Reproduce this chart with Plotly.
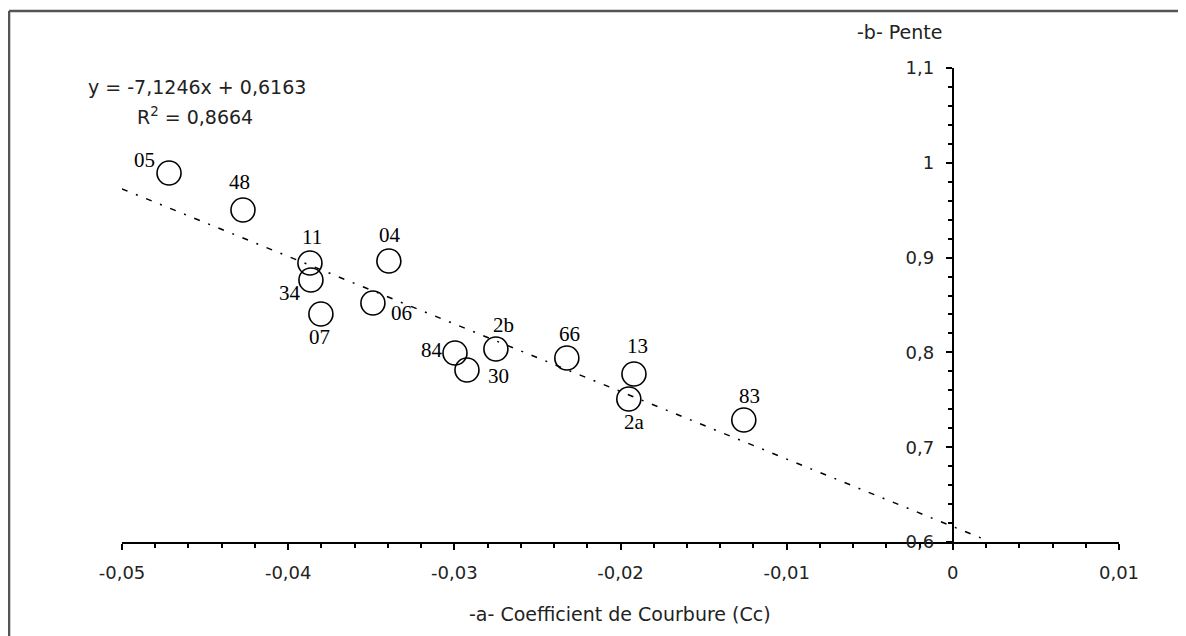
import plotly.graph_objects as go

# Courbure (Cc) vs pente, one point per site
sites = ["05", "48", "11", "34", "07", "04", "06", "84", "30", "2b", "66", "13", "2a", "83"]
cc = [-0.04717, -0.04272, -0.03869, -0.03863, -0.03803, -0.03394, -0.0349,
      -0.02996, -0.02924, -0.0275, -0.02323, -0.01919, -0.0195, -0.01258]
pente = [0.9892, 0.9502, 0.8943, 0.8764, 0.8405, 0.8964, 0.8521,
         0.7994, 0.7814, 0.8036, 0.7941, 0.7772, 0.7508, 0.7287]

# pixel offsets of each site label from its circle
label_dx = [-25, -3, 2, -21, -1, 1, 29, -23, 32, 8, 3, 4, 6, 6]
label_dy = [13, 28, 26, -13, -23, 26, -10, 3, -6, 24, 24, 28, -23, 24]

# trend line as printed on the chart
slope = -7.1246
intercept = 0.6163
trend_x = [-0.05, 0.002]

x_ticks = [-0.05, -0.04, -0.03, -0.02, -0.01, 0, 0.01]
x_labels = ["-0,05", "-0,04", "-0,03", "-0,02", "-0,01", "0", "0,01"]
y_ticks = [0.6, 0.7, 0.8, 0.9, 1.0, 1.1]
y_labels = ["0,6", "0,7", "0,8", "0,9", "1", "1,1"]

SANS = "DejaVu Sans"
SERIF = "Liberation Serif, Times New Roman, serif"
TXT = "#222"

fig = go.Figure()

fig.add_trace(go.Scatter(
    x=trend_x,
    y=[slope * v + intercept for v in trend_x],
    mode="lines",
    line=dict(color="black", width=1.5, dash="6px,9px,2px,9px"),
    hoverinfo="skip",
))

fig.add_trace(go.Scatter(
    x=cc, y=pente, mode="markers",
    marker=dict(symbol="circle-open", size=24, color="black", line=dict(width=1.6)),
    text=sites,
))

for s, x, y, dx, dy in zip(sites, cc, pente, label_dx, label_dy):
    fig.add_annotation(x=x, y=y, text=s, showarrow=False, xshift=dx, yshift=dy,
                       xanchor="center", yanchor="middle",
                       font=dict(family=SERIF, size=21, color="black"))


def note(text, x, y):
    fig.add_annotation(xref="paper", yref="paper", x=x, y=y, text=text,
                       showarrow=False, xanchor="center", yanchor="middle",
                       font=dict(family=SANS, size=19, color=TXT))


note("y = -7,1246x + 0,6163", 0.0752, 0.96)
note("R<sup>2</sup> = 0,8664", 0.0732, 0.899)
note("-b- Pente", 0.78, 1.076)
note("-a- Coefficient de Courbure (Cc)", 0.4995, -0.152)

# outer frame (only top and left edges are in view)
fig.add_shape(type="line", xref="paper", yref="paper", x0=-0.1133, x1=1.1, y0=1.1203, y1=1.1203,
              line=dict(color="#555", width=2.5))
fig.add_shape(type="line", xref="paper", yref="paper", x0=-0.1133, x1=-0.1133, y0=1.1203, y1=-0.3,
              line=dict(color="#555", width=2.5))

# the page puts an 8px body margin round the plot
fig.update_layout(
    width=1178, height=628,
    margin=dict(l=114, r=67, t=60, b=94),
    paper_bgcolor="white", plot_bgcolor="white",
    showlegend=False,
    font=dict(family=SANS, size=18, color=TXT),
    xaxis=dict(
        range=[-0.05, 0.01], showgrid=False, zeroline=False,
        showline=True, linecolor="black", linewidth=2,
        tickvals=x_ticks, ticktext=x_labels,
        ticks="outside", ticklen=6, tickwidth=2, tickcolor="black",
        ticklabelstandoff=7,
        minor=dict(dtick=0.002, tick0=-0.05, ticks="outside", ticklen=4,
                   tickwidth=1.5, tickcolor="black", showgrid=False),
    ),
    yaxis=dict(
        range=[0.6, 1.1], showgrid=False, zeroline=False,
        anchor="free", position=5 / 6,
        showline=True, linecolor="black", linewidth=2,
        tickvals=y_ticks, ticktext=y_labels,
        ticks="outside", ticklen=6, tickwidth=2, tickcolor="black",
        ticklabelstandoff=8,
        minor=dict(dtick=0.02, tick0=0.6, ticks="outside", ticklen=4,
                   tickwidth=1.5, tickcolor="black", showgrid=False),
    ),
)

fig.write_html("out.html")
